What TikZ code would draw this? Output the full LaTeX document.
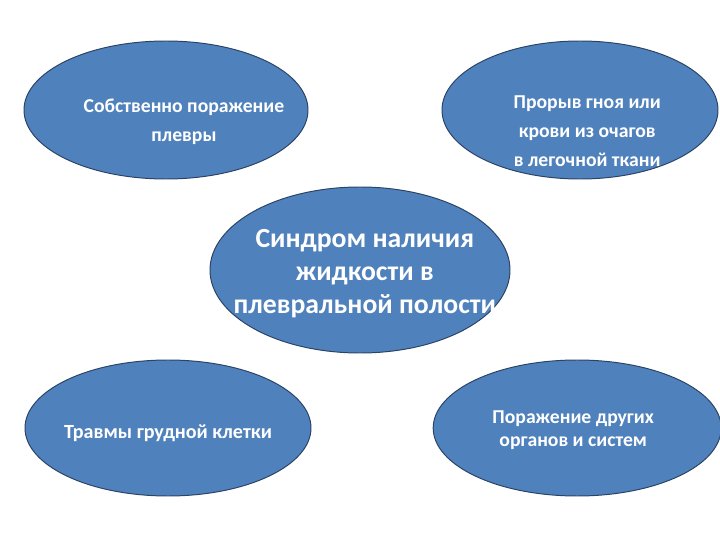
\documentclass[tikz,border=0pt]{standalone}
\usepackage{fontspec}
\setmainfont{Carlito}
\usetikzlibrary{shapes.geometric, positioning}
\definecolor{bubbleblue}{HTML}{4F81BD}
\definecolor{bubbleedge}{HTML}{2B4466}
\tikzset{
	node distance=4cm, % distance between the centres
	bubble/.style={ellipse, draw=bubbleedge, fill=bubbleblue, line width=0.7pt, inner sep=0pt}, % the blue ovals
	bubble text/.style={text=white, align=center, font=\bfseries\fontsize{14}{21}\selectfont}, % white text on the ovals
}
\begin{document}
\begin{tikzpicture}[on grid]
	\useasboundingbox (0,0) rectangle (18,13.5);
	\node[bubble, minimum width=7.5cm, minimum height=4.15cm] (synd) at (9,6.75) {};
	\node[bubble, minimum width=7.1cm, minimum height=3.45cm] (pleura) [above left=4cm and 4.85cm of synd] {};
	\node[bubble, minimum width=6.9cm, minimum height=3.45cm] (pus) [above right=4cm and 5.5cm of synd] {};
	\node[bubble, minimum width=7.15cm, minimum height=3.4cm] (trauma) [below left=3.95cm and 4.8cm of synd] {};
	\node[bubble, minimum width=7.2cm, minimum height=3.4cm] (organs) [below right=3.95cm and 5.43cm of synd] {};

	\node[bubble text, font=\bfseries\fontsize{19.7}{23.5}\selectfont] (syndT) at ([xshift=0.12cm, yshift=-0.1cm]synd) {Синдром наличия\\жидкости в\\плевральной полости};
	\node[bubble text] (pleuraT) at ([xshift=0.45cm, yshift=-0.3cm]pleura) {Собственно поражение\\плевры};
	\node[bubble text, font=\bfseries\fontsize{14}{20.5}\selectfont] (pusT) at ([xshift=0.18cm, yshift=-0.53cm]pus) {Прорыв гноя или\\крови из очагов\\в легочной ткани};
	\node[bubble text, font=\bfseries\fontsize{14.3}{21}\selectfont] (traumaT) at ([yshift=-0.13cm]trauma) {Травмы грудной клетки};
	\node[bubble text, font=\bfseries\fontsize{14}{16.5}\selectfont] (organsT) at ([xshift=-0.1cm, yshift=-0.05cm]organs) {Поражение других\\органов и систем};
\end{tikzpicture}
\end{document}
